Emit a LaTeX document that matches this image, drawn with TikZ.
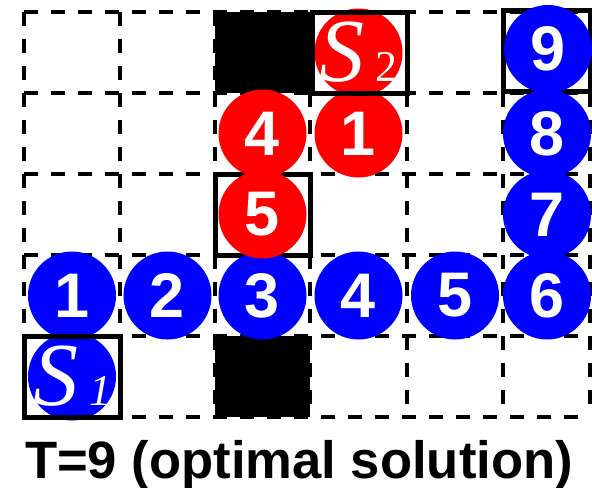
\documentclass[tikz,border=0pt]{standalone}
\usepackage{fontspec}
\setmainfont{Liberation Serif}
\setsansfont{Liberation Sans}
\definecolor{agblue}{RGB}{0,0,255}
\definecolor{agred}{RGB}{255,0,0}
\newcommand{\startlbl}[2]{\makebox[0pt]{\rmfamily\mdseries{\fontsize{45}{45}\selectfont\itshape S}{\fontsize{22}{22}\selectfont#1 #2}}}

\begin{document}
\begin{tikzpicture}[x=0.5pt, y=-0.5pt,
    gridline/.style={dash pattern=on 7pt off 6.5pt, line width=1.6pt},
    cellbox/.style={draw=black, line width=2.5pt},
    agent/.style={circle, inner sep=0pt, minimum size=44pt, text=white,
      font=\fontsize{31.5}{31.5}\selectfont\sffamily\bfseries},
    bluag/.style={agent, fill=agblue},
    redag/.style={agent, fill=agred}
  ]
    \useasboundingbox (0,0) rectangle (592,487);
    \fill[black] (215,12) rectangle (310,93);
    \fill[black] (215,336) rectangle (310,417);
    \foreach \x in {24,120,215,310,407,503,590}
      \draw[gridline] (\x,12) -- (\x,417);
    \foreach \y in {12,93,174,255,336,417}
      \draw[gridline] (24,\y) -- (590,\y);
    \draw[cellbox] (215,174) rectangle (310,255);
    \draw[cellbox] (503,10) rectangle (590,91);

    \node[bluag] (b1) at (72,295.5)    {1};
    \node[bluag] (b2) at (167.5,295.5) {2};
    \node[bluag] (b3) at (262.5,295.5) {3};
    \node[bluag] (b4) at (358.5,295.5) {4};
    \node[bluag] (b5) at (455,295.5)   {5};
    \node[bluag] (b6) at (547,295.5)   {6};
    \node[bluag] (b7) at (547,214.5)   {7};
    \node[bluag] (b8) at (547,133.5)   {8};
    \node[bluag] (b9) at (548,49)      {9};
    \node[bluag] (bS) at (72,376.5)    {\startlbl{\itshape}{1}};

    \node[redag] (r5) at (262.5,214.5) {5};
    \node[redag] (r4) at (262.5,133.5) {4};
    \node[redag] (r1) at (358.5,133.5) {1};
    \node[redag] (rS) at (358.5,52.5)  {\startlbl{}{2}};

    \draw[cellbox] (24,336) rectangle (120,417);
    \draw[cellbox] (312,12) rectangle (407,93);

    \node[anchor=base, inner sep=0pt, font=\fontsize{26.3}{26.3}\selectfont\sffamily\bfseries]
      (caption) at (299,478) {T=9 (optimal solution)};
  \end{tikzpicture}
\end{document}
